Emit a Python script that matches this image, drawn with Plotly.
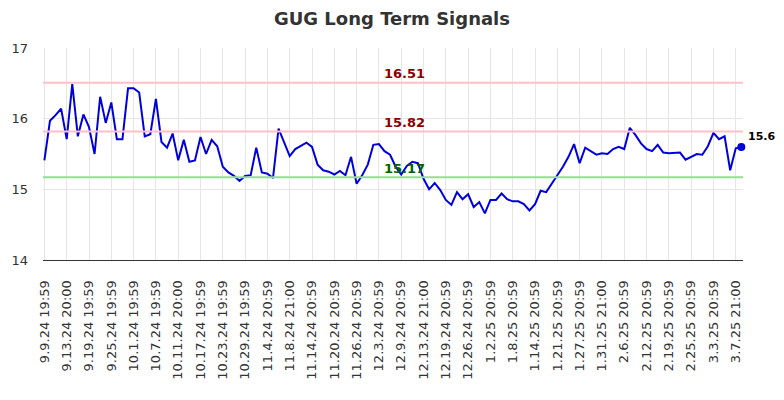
import plotly.graph_objects as go

tick_labels = ["9.9.24 19:59", "9.13.24 20:00", "9.19.24 19:59", "9.25.24 19:59", "10.1.24 19:59",
               "10.7.24 19:59", "10.11.24 20:00", "10.17.24 19:59", "10.23.24 19:59", "10.29.24 19:59",
               "11.4.24 20:59", "11.8.24 21:00", "11.14.24 20:59", "11.20.24 20:59", "11.26.24 20:59",
               "12.3.24 20:59", "12.9.24 20:59", "12.13.24 21:00", "12.19.24 20:59", "12.26.24 20:59",
               "1.2.25 20:59", "1.8.25 20:59", "1.14.25 20:59", "1.21.25 20:59", "1.27.25 20:59",
               "1.31.25 21:00", "2.6.25 20:59", "2.12.25 20:59", "2.19.25 20:59", "2.25.25 20:59",
               "3.3.25 20:59", "3.7.25 21:00"]

prices = [15.41, 15.97, 16.05, 16.14, 15.71, 16.49, 15.75, 16.06, 15.88, 15.50,
          16.31, 15.94, 16.23, 15.71, 15.71, 16.43, 16.43, 16.37, 15.75, 15.78,
          16.28, 15.67, 15.59, 15.79, 15.41, 15.70, 15.39, 15.41, 15.74, 15.50,
          15.70, 15.61, 15.32, 15.24, 15.19, 15.12, 15.19, 15.20, 15.59, 15.24,
          15.22, 15.16, 15.86, 15.67, 15.47, 15.57, 15.61, 15.66, 15.60, 15.35,
          15.27, 15.25, 15.21, 15.26, 15.20, 15.46, 15.08, 15.20, 15.35, 15.63,
          15.64, 15.54, 15.49, 15.32, 15.21, 15.33, 15.39, 15.37, 15.15, 15.00,
          15.09, 14.99, 14.85, 14.78, 14.96, 14.86, 14.93, 14.75, 14.82, 14.66,
          14.85, 14.85, 14.94, 14.86, 14.83, 14.83, 14.79, 14.70, 14.79, 14.98,
          14.96, 15.09, 15.20, 15.32, 15.46, 15.64, 15.37, 15.59, 15.54, 15.49,
          15.51, 15.50, 15.57, 15.60, 15.57, 15.87, 15.77, 15.65, 15.57, 15.54,
          15.63, 15.52, 15.51, 15.51, 15.52, 15.42, 15.46, 15.50, 15.49, 15.61,
          15.80, 15.71, 15.75, 15.27, 15.58, 15.60]

resistance_high = 16.51
resistance_low = 15.82
support = 15.17
last_label = "15.6"

x = list(range(len(prices)))
tick_vals = list(range(0, len(tick_labels) * 4, 4))

fig = go.Figure()
fig.add_trace(go.Scatter(x=x, y=prices, mode="lines",
                         line=dict(color="#0000dd", width=2), hoverinfo="x+y",
                         showlegend=False))
fig.add_trace(go.Scatter(x=[x[-1]], y=[prices[-1]], mode="markers", cliponaxis=False,
                         marker=dict(color="#0000dd", size=8), showlegend=False))

for lvl, col in [(resistance_high, "#ffc0c8"), (resistance_low, "#ffc0c8"), (support, "#90e090")]:
    fig.add_hline(y=lvl, line=dict(color=col, width=2))

mid = (len(prices) - 1) / 2 + 2
for lvl, col in [(resistance_high, "#8b0000"), (resistance_low, "#8b0000"), (support, "#006400")]:
    fig.add_annotation(x=mid, y=lvl, text=f"{lvl:.2f}", showarrow=False, yshift=9,
                       font=dict(family="DejaVu Sans", size=13, color=col, weight="bold"))

fig.add_annotation(x=x[-1], y=prices[-1], text=last_label, showarrow=False,
                   xanchor="left", xshift=5, yshift=10,
                   font=dict(family="DejaVu Sans", size=11, color="black", weight="bold"))

fig.update_layout(
    width=776, height=392,
    margin=dict(l=35, r=41, t=40, b=140, autoexpand=False),
    paper_bgcolor="white", plot_bgcolor="white",
    title=dict(text="GUG Long Term Signals", x=0.4948, xanchor="center", xref="container",
               y=0.972, yanchor="middle",
               font=dict(family="DejaVu Sans", size=18, color="#333333", weight="bold")),
    font=dict(family="DejaVu Sans", size=13, color="#333333"),
)
fig.update_xaxes(range=[-0.25, 125.3], tickmode="array", tickvals=tick_vals, ticktext=tick_labels,
                 tickangle=-90, showgrid=True, gridcolor="#e6e6e6", gridwidth=1,
                 showline=True, linecolor="#333333", linewidth=1, zeroline=False,
                 ticklabelstandoff=14, automargin=False,
                 tickfont=dict(size=13, color="#333333"))
fig.update_yaxes(range=[14, 17], dtick=1, showgrid=True, gridcolor="#e6e6e6", gridwidth=1,
                 zeroline=False, showline=False, ticklabelstandoff=14, automargin=False,
                 tickfont=dict(size=13, color="#333333"))

fig.write_html("out.html")
